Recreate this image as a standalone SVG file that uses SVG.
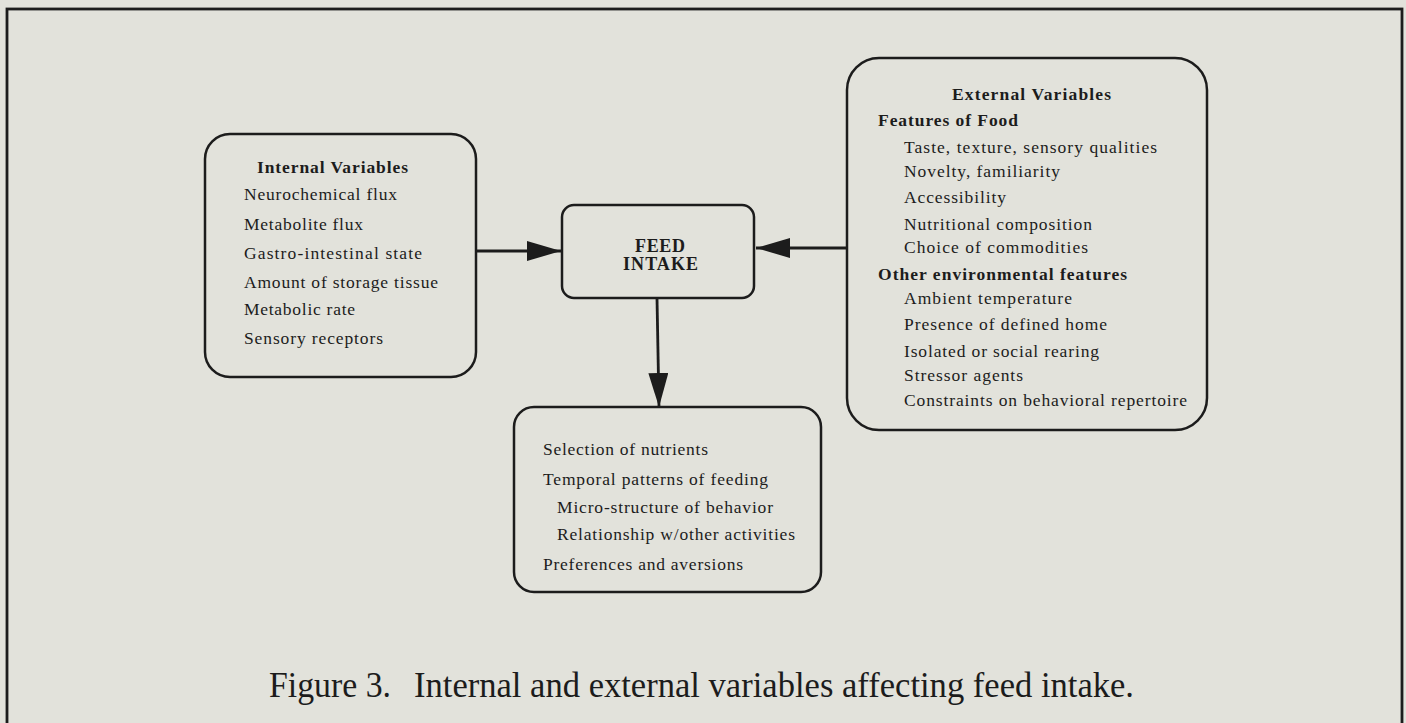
<svg xmlns="http://www.w3.org/2000/svg" width="1406" height="723" viewBox="0 0 1406 723">
<style>
  .box { fill: none; stroke: #1c1c1c; stroke-width: 2.5; }
  .t { font-family: "Liberation Serif", "Times New Roman", serif; font-size: 17.5px; fill: #1c1c1c; }
  .b { font-weight: bold; }
  .conn { stroke: #1c1c1c; stroke-width: 2.8; fill: none; }
  .cap { font-family: "Liberation Serif", "Times New Roman", serif; font-size: 36px; fill: #1c1c1c; }
</style>
<defs>
  <marker id="arrow" markerUnits="userSpaceOnUse" markerWidth="36" markerHeight="22" refX="34" refY="10" orient="auto">
    <path d="M0,0 L34,10 L0,20 Z" fill="#1c1c1c"/>
  </marker>
</defs>
<rect x="0" y="0" width="1406" height="723" fill="#e2e2db"/>
<rect x="7" y="9" width="1395" height="740" fill="none" stroke="#1c1c1c" stroke-width="2.8"/>

<g id="connectors">
  <line class="conn" x1="476" y1="251" x2="561" y2="251" marker-end="url(#arrow)"/>
  <line class="conn" x1="846" y1="248" x2="756" y2="248" marker-end="url(#arrow)"/>
  <line class="conn" x1="657" y1="298" x2="659" y2="407" stroke-width="2.2" marker-end="url(#arrow)"/>
</g>

<g id="internal">
  <rect class="box" x="205" y="134" width="271" height="243" rx="25"/>
  <text class="t b" x="257" y="173" textLength="151" lengthAdjust="spacing">Internal Variables</text>
  <text class="t" x="244" y="200" textLength="153" lengthAdjust="spacing">Neurochemical flux</text>
  <text class="t" x="244" y="230" textLength="119" lengthAdjust="spacing">Metabolite flux</text>
  <text class="t" x="244" y="259" textLength="178" lengthAdjust="spacing">Gastro-intestinal state</text>
  <text class="t" x="244" y="288" textLength="194" lengthAdjust="spacing">Amount of storage tissue</text>
  <text class="t" x="244" y="315" textLength="111" lengthAdjust="spacing">Metabolic rate</text>
  <text class="t" x="244" y="344" textLength="139" lengthAdjust="spacing">Sensory receptors</text>
</g>

<g id="feed-intake">
  <rect class="box" x="562" y="205" width="192" height="93" rx="12"/>
  <text class="t b" x="635" y="252" style="font-size:18px" textLength="50" lengthAdjust="spacing">FEED</text>
  <text class="t b" x="623" y="270" style="font-size:18px" textLength="75" lengthAdjust="spacing">INTAKE</text>
</g>

<g id="external">
  <rect class="box" x="847" y="58" width="360" height="372" rx="32"/>
  <text class="t b" x="952" y="100" textLength="159" lengthAdjust="spacing">External Variables</text>
  <text class="t b" x="878" y="126" textLength="140" lengthAdjust="spacing">Features of Food</text>
  <text class="t" x="904" y="153" textLength="253" lengthAdjust="spacing">Taste, texture, sensory qualities</text>
  <text class="t" x="904" y="177" textLength="156" lengthAdjust="spacing">Novelty, familiarity</text>
  <text class="t" x="904" y="203" textLength="102" lengthAdjust="spacing">Accessibility</text>
  <text class="t" x="904" y="230" textLength="188" lengthAdjust="spacing">Nutritional composition</text>
  <text class="t" x="904" y="253" textLength="184" lengthAdjust="spacing">Choice of commodities</text>
  <text class="t b" x="878" y="280" textLength="249" lengthAdjust="spacing">Other environmental features</text>
  <text class="t" x="904" y="304" textLength="168" lengthAdjust="spacing">Ambient temperature</text>
  <text class="t" x="904" y="330" textLength="203" lengthAdjust="spacing">Presence of defined home</text>
  <text class="t" x="904" y="357" textLength="195" lengthAdjust="spacing">Isolated or social rearing</text>
  <text class="t" x="904" y="381" textLength="119" lengthAdjust="spacing">Stressor agents</text>
  <text class="t" x="904" y="406" textLength="283" lengthAdjust="spacing">Constraints on behavioral repertoire</text>
</g>

<g id="outcomes">
  <rect class="box" x="514" y="407" width="307" height="185" rx="20"/>
  <text class="t" x="543" y="455" textLength="165" lengthAdjust="spacing">Selection of nutrients</text>
  <text class="t" x="543" y="485" textLength="225" lengthAdjust="spacing">Temporal patterns of feeding</text>
  <text class="t" x="557" y="513" textLength="216" lengthAdjust="spacing">Micro-structure of behavior</text>
  <text class="t" x="557" y="540" textLength="238" lengthAdjust="spacing">Relationship w/other activities</text>
  <text class="t" x="543" y="570" textLength="200" lengthAdjust="spacing">Preferences and aversions</text>
</g>

<g id="caption">
  <text class="cap" x="269" y="697" textLength="122" lengthAdjust="spacingAndGlyphs">Figure 3.</text>
  <text class="cap" x="414" y="697" textLength="720" lengthAdjust="spacingAndGlyphs">Internal and external variables affecting feed intake.</text>
</g>
</svg>
